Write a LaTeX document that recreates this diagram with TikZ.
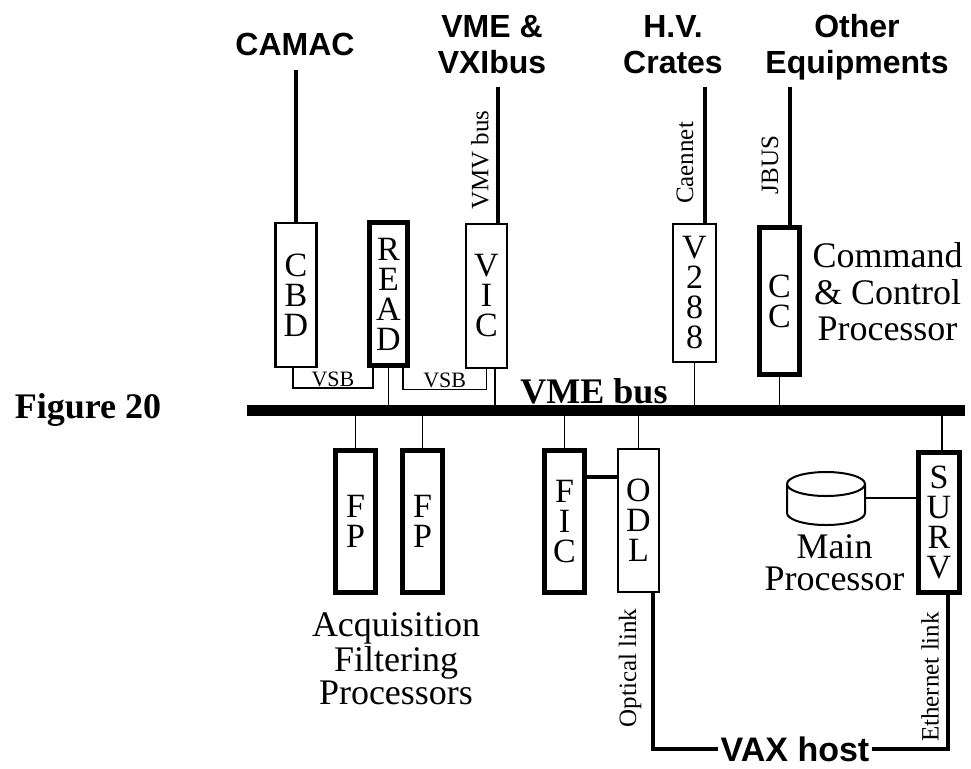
\documentclass[tikz,border=0pt]{standalone}
\usepackage{fontspec}
\setmainfont{Liberation Serif}
\setsansfont{Liberation Sans}
\usetikzlibrary{calc}

\begin{document}
\begin{tikzpicture}[
  x=0.5pt, y=-0.5pt,
  card/.style={draw, line width=1.1pt, inner sep=0pt, minimum width=20.5pt, align=center, font=\fontsize{17}{15}\selectfont},
  heavycard/.style={card, line width=2.5pt, minimum width=20pt},
  head/.style={align=center, inner sep=0pt, text depth=0pt, font=\sffamily\bfseries\fontsize{16}{18}\selectfont},
  caption/.style={align=center, inner sep=0pt, text depth=0pt, font=\fontsize{18}{16.25}\selectfont},
  side/.style={rotate=90, inner sep=0pt, font=\fontsize{12.5}{14}\selectfont},
  tag/.style={anchor=base, inner sep=0pt, yshift=1pt, font=\fontsize{11}{12}\selectfont},
  feed/.style={line width=2pt},
  wire/.style={line width=0.9pt},
  link/.style={line width=1.7pt},
  bus/.style={line width=5.5pt},
]
\useasboundingbox (0,0) rectangle (971,768);

\node[head] (camac) at (295,44) {CAMAC};
\node[head] (vxi) at (492,44) {VME \&\\VXIbus};
\node[head] (hv) at (673,44) {H.V.\\Crates};
\node[head] (other) at (857,44) {Other\\Equipments};

\node[card, minimum height=72pt] (cbd) at (296,295) {C\\B\\D};
\node[heavycard, minimum width=19pt, minimum height=71.5pt] (read) at (388.5,294) {R\\E\\A\\D};
\node[card, minimum height=72pt] (vic) at (486.5,296) {V\\I\\C};
\node[card, minimum width=21.5pt, minimum height=69pt] (v288) at (694.5,293) {V\\2\\8\\8};
\node[heavycard, minimum height=73.5pt] (cc) at (779.5,301) {C\\C};
\node[caption, font=\fontsize{18}{18.25}\selectfont] (ccp) at (887.5,291.5) {Command\\\& Control\\Processor};

\node[side] (vmv) at (480,160) {VMV bus};
\node[side] (caen) at (685,163) {Caennet};
\node[side] (jbus) at (770,165) {JBUS};

\node[heavycard, minimum height=71pt] (fp1) at (355.5,521.5) {F\\P};
\node[heavycard, minimum height=71pt] (fp2) at (422.5,521.5) {F\\P};
\node[heavycard, minimum height=71pt] (fic) at (564.5,521.5) {F\\I\\C};
\node[card, minimum height=71.5pt] (odl) at (638.5,520.5) {O\\D\\L};
\node[heavycard, minimum width=20.5pt, minimum height=70pt] (surv) at (939,522.5) {S\\U\\R\\V};
\node[caption] (afp) at (396,658.5) {Acquisition\\Filtering\\Processors};
\node[caption, font=\fontsize{18}{16}\selectfont] (mainp) at (834.5,562.5) {Main\\Processor};

\node[side] (optical) at (630,668) {Optical link};
\node[side] (ether) at (930,677) {Ethernet link};
\node[head, inner sep=1pt, font=\sffamily\bfseries\fontsize{17}{19}\selectfont] (vax) at (795,749) {VAX host};

\node[anchor=base, inner sep=0pt, font=\bfseries\fontsize{18}{20}\selectfont] (vmebus) at (594,403) {VME bus};
\node[anchor=base, inner sep=0pt, font=\bfseries\fontsize{18}{20}\selectfont] (fig) at (88,418) {Figure 20};

\coordinate (camactop) at (296,70);
\coordinate (vxitop) at (498,87);
\coordinate (hvtop) at (705,87);
\coordinate (othertop) at (790,87);
\coordinate (busL) at (247,410.5);
\coordinate (busR) at (965,410.5);
\coordinate (vicdown) at ($(vic.south)+(8.5,0)$);
\coordinate (survup) at ($(surv.north)+(3,0)$);
\coordinate (ficport) at ($(fic.east)+(0,-44.5)$);
\coordinate (odldown) at ($(odl.south)+(14.5,0)$);
\coordinate (survdown) at ($(surv.south)+(9,0)$);
\coordinate (diskport) at (865,498);

\draw[feed] (camactop) -- (camactop |- cbd.north);
\draw[feed] (vxitop) -- (vxitop |- vic.north);
\draw[feed] (hvtop) -- (hvtop |- v288.north);
\draw[feed] (othertop) -- (othertop |- cc.north);

\draw[wire] ($(cbd.south)+(-3,0)$) -- ++(0,20) -| node[tag, pos=0.25] (vsbA) {VSB} ($(read.south)+(-15.5,0)$);
\draw[wire] ($(read.south)+(14.5,0)$) -- ++(0,21.5) -| node[tag, pos=0.25] (vsbB) {VSB} (vic.south);

\draw[wire] (read.south) -- (read.south |- busL);
\draw[wire] (vicdown) -- (vicdown |- busL);
\draw[wire] (v288.south) -- (v288.south |- busL);
\draw[wire] (cc.south) -- (cc.south |- busL);
\draw[wire] (fp1.north) -- (fp1.north |- busL);
\draw[wire] (fp2.north) -- (fp2.north |- busL);
\draw[wire] (fic.north) -- (fic.north |- busL);
\draw[wire] (odl.north) -- (odl.north |- busL);
\draw[wire] (survup) -- (survup |- busL);
\draw[bus] (busL) -- (busR);

\draw[feed] (ficport) -- (ficport -| odl.west);
\draw[link] (odldown) |- (vax.west);
\draw[link] (vax.east) -| (survdown);

\draw[line width=1pt] (826,484) ellipse [x radius=39, y radius=12];
\draw[line width=1pt] (787,484) -- (787,513) arc[start angle=180, end angle=0, x radius=39, y radius=12] -- (865,484);
\draw[wire] (diskport) -- (diskport -| surv.west);
\end{tikzpicture}
\end{document}
